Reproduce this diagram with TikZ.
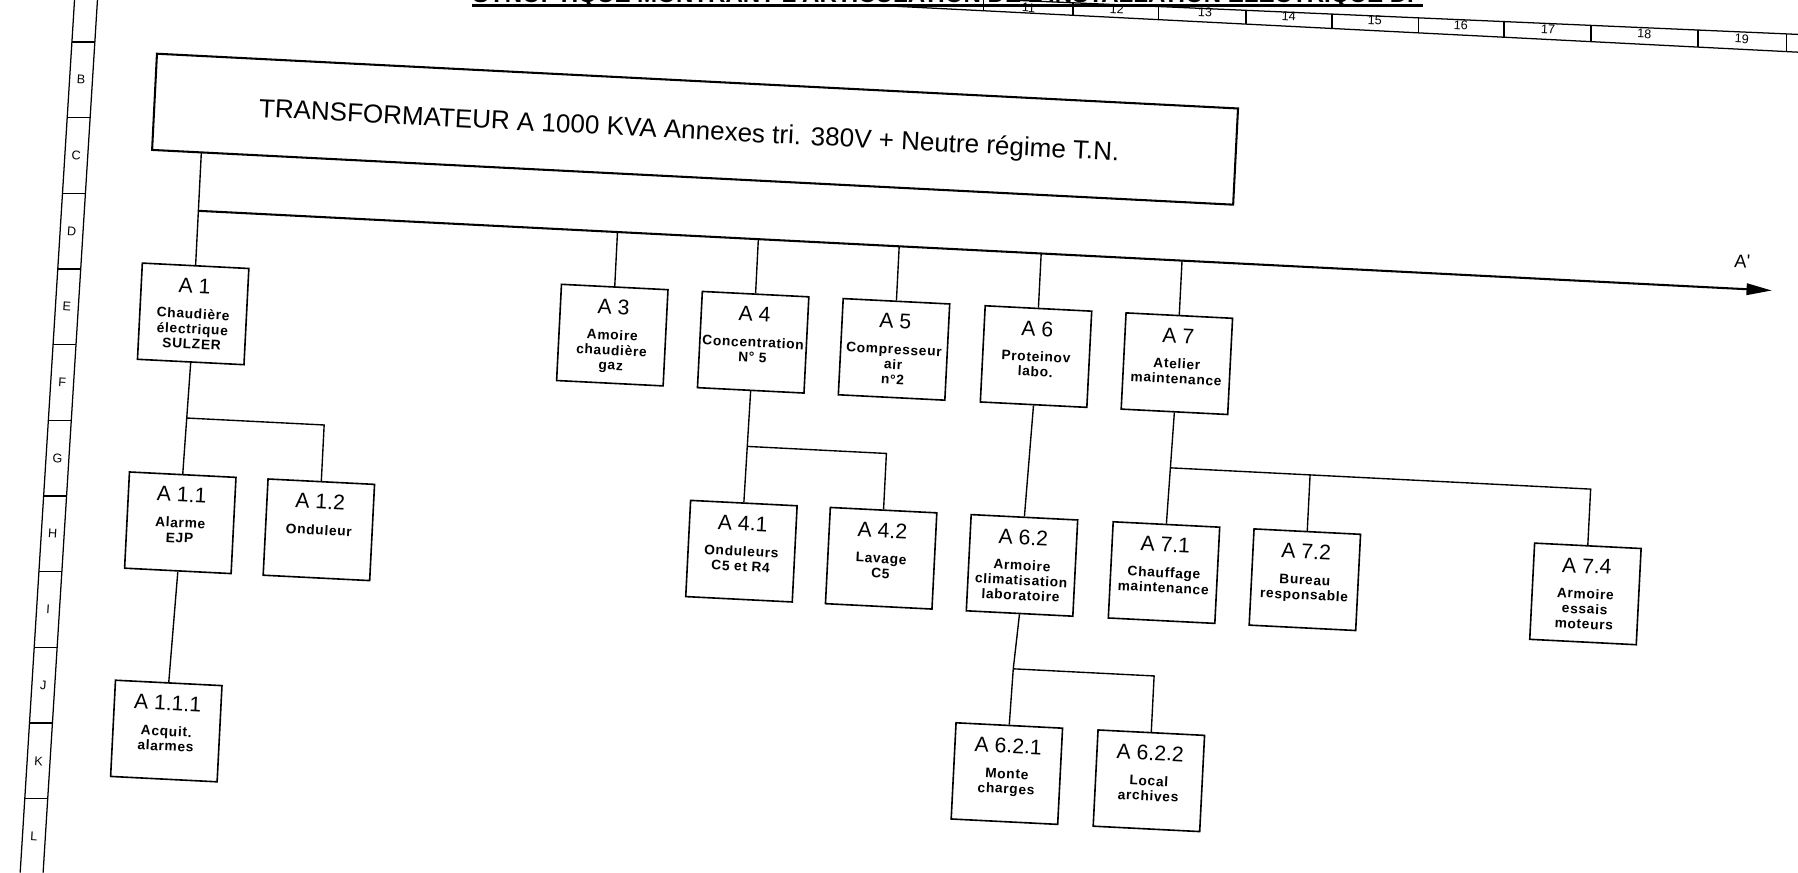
\documentclass[tikz,border=0pt]{standalone}
\usepackage{fontspec}
\setmainfont{Liberation Sans}
\newfontfamily\subf[LetterSpace=5]{Liberation Sans}
\usetikzlibrary{arrows.meta}
\newcommand\mkunit[5]{%
  \node[ubox] (#1) at (#2,#3) {};
  \node[uid] (#1id) at (#2,#3-18) {#4};
  \node[usub] (#1sub) at (#2,#3+4.3) {\begin{tabular}[t]{@{}c@{}}#5\end{tabular}};
}
\begin{document}
\begin{tikzpicture}[x=1pt,y=-1pt,
  ubox/.style={draw,line width=1.4pt,minimum width=93pt,minimum height=84pt,inner sep=0pt},
  uid/.style={anchor=base,inner sep=0pt,font=\fontsize{18.5}{20}\selectfont},
  usub/.style={anchor=base,inner sep=0pt,font=\subf\bfseries\fontsize{12}{13.1}\selectfont},
  wire/.style={line width=1.2pt},
  busline/.style={line width=1.8pt,-{Triangle[length=22pt,width=10pt]}},
  rul/.style={line width=1.1pt},
  rultxt/.style={inner sep=0pt,font=\fontsize{11}{13}\selectfont}]
\useasboundingbox (0,0) rectangle (1568,761);
\fill[white] (0,0) rectangle (1568,761);
\clip (0,0) rectangle (1568,761);

% ---- title (cut off at top) ----
\node[anchor=base west,inner sep=0pt,text depth=0pt,font=\bfseries\fontsize{21}{24}\selectfont] (title) at (412,2.3)
  {SYNOPTIQUE MONTRANT L\textquotesingle ARTICULATION DE L\textquotesingle INSTALLATION ELECTRIQUE D.};
\coordinate (ul0) at (412,4.4);
\coordinate (ul1) at (1241,4.4);
\draw[line width=2.6pt] (ul0) -- (ul1);

% ---- top ruler ----
\coordinate (tr0) at (760,4.4);
\coordinate (tr1) at (1568,45.5);
\coordinate (tu0) at (880,0);
\coordinate (tu1) at (1568,30);
\draw[rul] (tr0) -- (tr1);
\draw[rul] (tu0) -- (tu1);
\foreach \x in {858,935.8,1010.5,1086.5,1161.5,1237,1311.6,1387.5,1480.8,1558}{
  \draw[rul] (\x,{max(0,(\x-880)/688*30)}) -- (\x,{4.4+(\x-760)/808*41.1});
}
\foreach \x/\y/\n in {897/6.8/11,974/8.3/12,1051/11/13,1124/14.5/14,1199/18/15,1274/21.8/16,1350/25.6/17,1434/29.5/18,1519/34/19}{
  \node[rultxt,rotate=-2.7] at (\x,\y) {\n};
}

% ---- left ruler ----
\coordinate (lr0) at (65,0);
\coordinate (lr1) at (17.6,761);
\coordinate (lr2) at (85,0);
\coordinate (lr3) at (37.6,761);
\draw[rul] (lr0) -- (lr1);
\draw[rul] (lr2) -- (lr3);
\foreach \k in {0,...,10}{
  \draw[rul] ({65-0.0623*(36.6+66*\k)},{36.6+66*\k}) -- ({85-0.0623*(36.6+66*\k)},{36.6+66*\k});
}
\foreach \l [count=\i from 0] in {B,C,D,E,F,G,H,I,J,K,L}{
  \node[rultxt,rotate=-3.6] at ({75-0.0623*(69.6+66*\i)},{69.6+66*\i}) {\l};
}

% ---- diagram (rotated scan) ----
\begin{scope}[shift={(176,184)},rotate=-2.9,transform shape]
  \node[draw,line width=1.8pt,minimum width=944pt,minimum height=84pt,inner sep=0pt] (T) at (426,-93) {};
  \node[anchor=base,inner sep=0pt,font=\fontsize{22.7}{26}\selectfont] (Ttxt) at (421,-84.3)
    {TRANSFORMATEUR A 1000 KVA Annexes tri. 380V + Neutre régime T.N.};

  \mkunit{A1}{-3}{90}{A 1}{Chaudière\\électrique\\SULZER}
  \mkunit{A3}{363}{90}{A 3}{Amoire\\chaudière\\gaz}
  \mkunit{A4}{486}{90}{A 4}{Concentration\\N° 5}
  \mkunit{A5}{609}{90}{A 5}{Compresseur\\air\\n°2}
  \mkunit{A6}{733}{90}{A 6}{Proteinov\\labo.}
  \mkunit{A7}{856}{90}{A 7}{Atelier\\maintenance}

  \mkunit{A11}{-5}{272.5}{A 1.1}{Alarme\\EJP}
  \mkunit{A12}{116}{272.5}{A 1.2}{Onduleur}
  \mkunit{A41}{485}{272.5}{A 4.1}{Onduleurs\\C5 et R4}
  \mkunit{A42}{607}{272.5}{A 4.2}{Lavage\\C5}
  \mkunit{A62}{730}{272.5}{A 6.2}{Armoire\\climatisation\\laboratoire}
  \mkunit{A71}{854}{272.5}{A 7.1}{Chauffage\\maintenance}
  \mkunit{A72}{977}{272.5}{A 7.2}{Bureau\\responsable}
  \mkunit{A74}{1222}{272.5}{A 7.4}{Armoire\\essais\\moteurs}

  \mkunit{A111}{-8}{454.5}{A 1.1.1}{Acquit.\\alarmes}
  \mkunit{A621}{726}{454.5}{A 6.2.1}{Monte\\charges}
  \mkunit{A622}{850}{454.5}{A 6.2.2}{Local\\archives}

  % bus
  \coordinate (t0) at (-3,-51);
  \coordinate (bus0) at (-3,0);
  \coordinate (busend) at (1371,0);
  \draw[busline] (bus0) -- (busend);
  \node[inner sep=0pt,font=\fontsize{16}{18}\selectfont] (Ap) at (1344,-24) {A\textquotesingle};
  \draw[wire] (t0) -- (A1.north);
  \coordinate (b3) at (363,0);
  \coordinate (b4) at (486,0);
  \coordinate (b5) at (609,0);
  \coordinate (b6) at (733,0);
  \coordinate (b7) at (856,0);
  \draw[wire] (b3) -- (A3.north);
  \draw[wire] (b4) -- (A4.north);
  \draw[wire] (b5) -- (A5.north);
  \draw[wire] (b6) -- (A6.north);
  \draw[wire] (b7) -- (A7.north);

  % A1 subtree
  \coordinate (j1) at (-4,181);
  \coordinate (j1r) at (116,181);
  \draw[wire] (A1.south) -- (j1) -- (A11.north);
  \draw[wire] (j1) -- (j1r) -- (A12.north);
  \draw[wire] (A11.south) -- (A111.north);

  % A4 subtree
  \coordinate (j4) at (485.5,181);
  \coordinate (j4r) at (607,181);
  \draw[wire] (A4.south) -- (j4) -- (A41.north);
  \draw[wire] (j4) -- (j4r) -- (A42.north);

  % A6 subtree
  \draw[wire] (A6.south) -- (A62.north);
  \coordinate (j6) at (727,363);
  \coordinate (j6r) at (850,363);
  \draw[wire] (A62.south) -- (j6) -- (A621.north);
  \draw[wire] (j6) -- (j6r) -- (A622.north);

  % A7 subtree
  \coordinate (j7) at (855,181);
  \coordinate (j7b) at (977,181);
  \coordinate (j7r) at (1222,181);
  \draw[wire] (A7.south) -- (j7) -- (A71.north);
  \draw[wire] (j7) -- (j7r) -- (A74.north);
  \draw[wire] (j7b) -- (A72.north);
\end{scope}
\end{tikzpicture}
\end{document}
